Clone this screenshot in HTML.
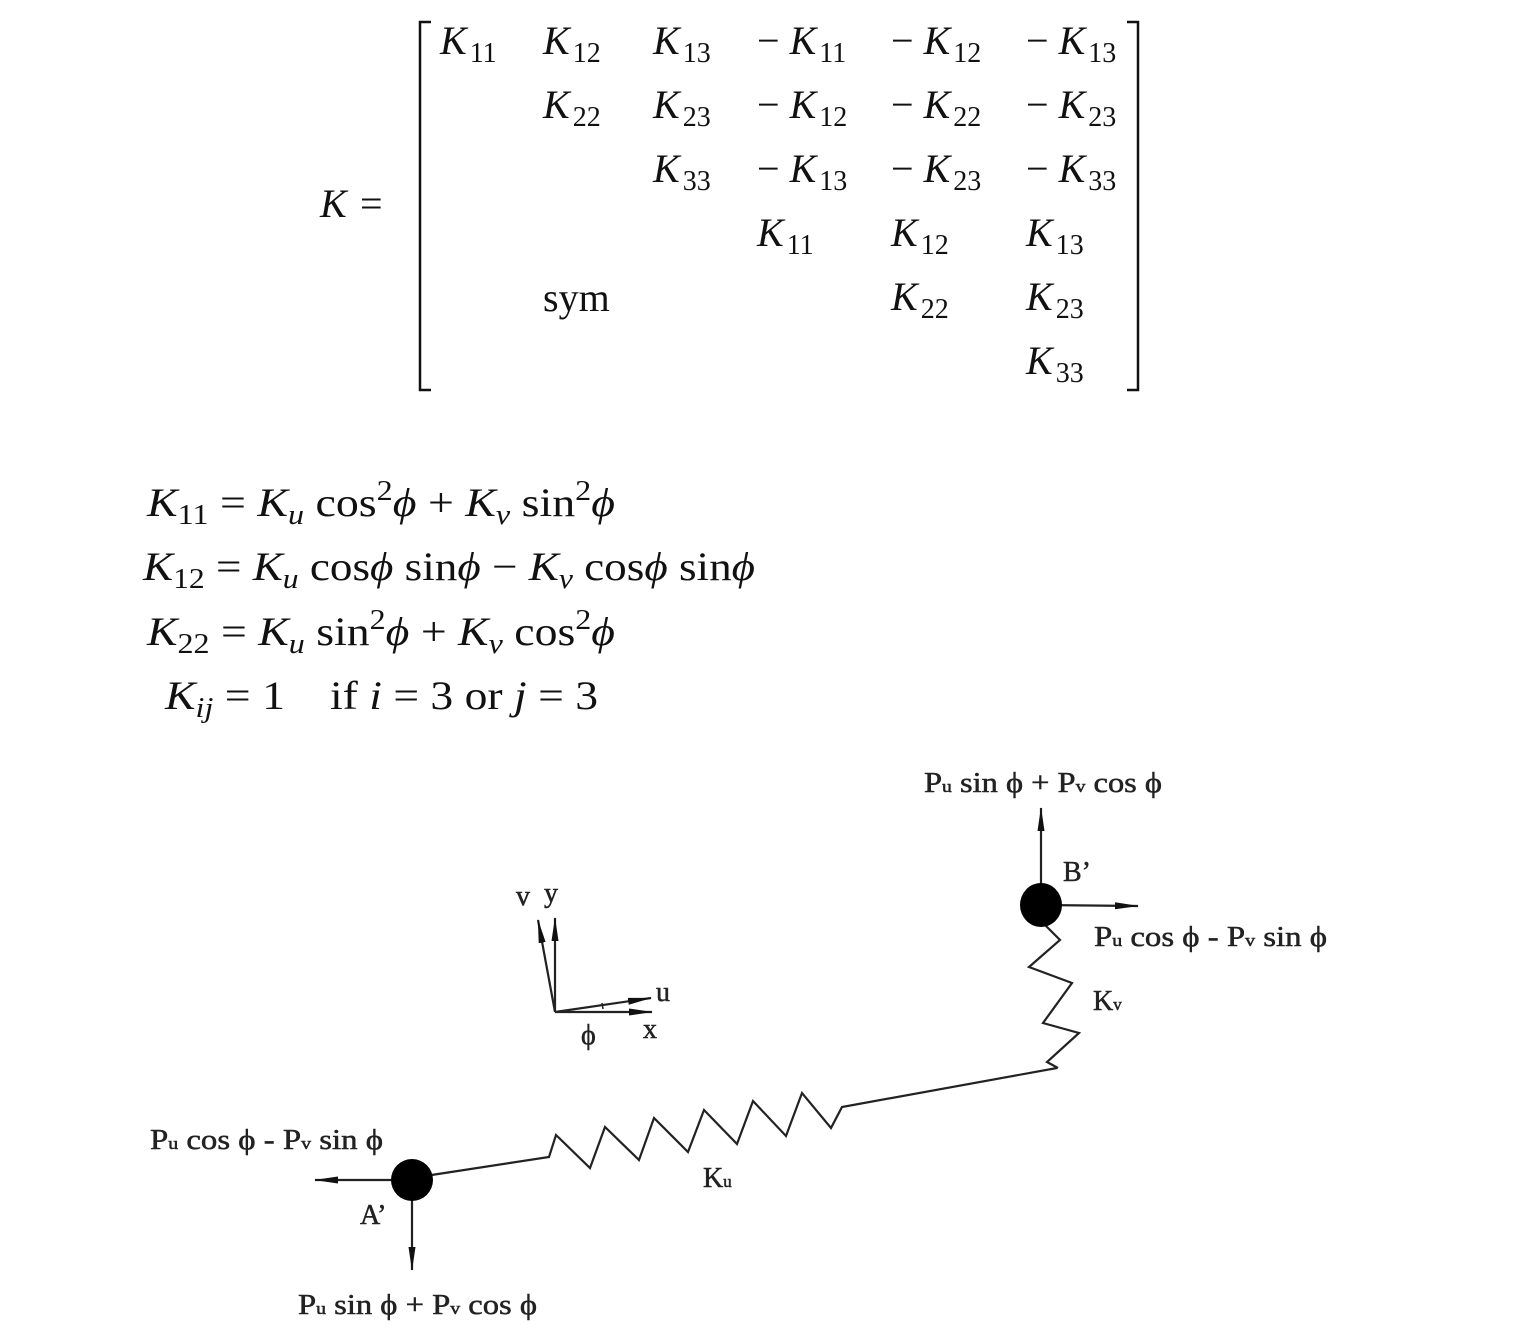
<!DOCTYPE html>
<html><head><meta charset="utf-8"><style>
html,body{margin:0;padding:0;background:#fff}
svg{display:block}
.m{font-family:"Liberation Serif",serif;font-size:40px;fill:#111}
.i{font-style:italic}
.s{font-size:28px;font-style:normal}
.d{font-family:"Liberation Serif",serif;font-size:28px;fill:#222;stroke:#222;stroke-width:0.5}
.ds{font-size:17px}
</style></head><body>
<svg width="1519" height="1335" viewBox="0 0 1519 1335" xmlns="http://www.w3.org/2000/svg">
<defs>
<marker id="ah2" markerWidth="24" markerHeight="10" refX="23" refY="5" orient="auto" markerUnits="userSpaceOnUse">
<path d="M0,1.5 L24,5 L0,8.5 Z" fill="#111"/></marker>
</defs>
<text class="m" x="320" y="217"><tspan class="i">K</tspan></text>
<text class="m" x="360" y="217">=</text>
<path d="M431,22 H420 V390 H431" fill="none" stroke="#111" stroke-width="2.5"/>
<path d="M1127,22 H1138 V390 H1127" fill="none" stroke="#111" stroke-width="2.5"/>
<text class="m" x="440" y="54"><tspan class="i">K</tspan><tspan class="s" dx="3" dy="8">11</tspan></text>
<text class="m" x="543" y="54"><tspan class="i">K</tspan><tspan class="s" dx="3" dy="8">12</tspan></text>
<text class="m" x="653" y="54"><tspan class="i">K</tspan><tspan class="s" dx="3" dy="8">13</tspan></text>
<text class="m" x="757" y="54">− <tspan class="i">K</tspan><tspan class="s" dx="3" dy="8">11</tspan></text>
<text class="m" x="891" y="54">− <tspan class="i">K</tspan><tspan class="s" dx="3" dy="8">12</tspan></text>
<text class="m" x="1026" y="54">− <tspan class="i">K</tspan><tspan class="s" dx="3" dy="8">13</tspan></text>
<text class="m" x="543" y="118"><tspan class="i">K</tspan><tspan class="s" dx="3" dy="8">22</tspan></text>
<text class="m" x="653" y="118"><tspan class="i">K</tspan><tspan class="s" dx="3" dy="8">23</tspan></text>
<text class="m" x="757" y="118">− <tspan class="i">K</tspan><tspan class="s" dx="3" dy="8">12</tspan></text>
<text class="m" x="891" y="118">− <tspan class="i">K</tspan><tspan class="s" dx="3" dy="8">22</tspan></text>
<text class="m" x="1026" y="118">− <tspan class="i">K</tspan><tspan class="s" dx="3" dy="8">23</tspan></text>
<text class="m" x="653" y="182"><tspan class="i">K</tspan><tspan class="s" dx="3" dy="8">33</tspan></text>
<text class="m" x="757" y="182">− <tspan class="i">K</tspan><tspan class="s" dx="3" dy="8">13</tspan></text>
<text class="m" x="891" y="182">− <tspan class="i">K</tspan><tspan class="s" dx="3" dy="8">23</tspan></text>
<text class="m" x="1026" y="182">− <tspan class="i">K</tspan><tspan class="s" dx="3" dy="8">33</tspan></text>
<text class="m" x="757" y="246"><tspan class="i">K</tspan><tspan class="s" dx="3" dy="8">11</tspan></text>
<text class="m" x="891" y="246"><tspan class="i">K</tspan><tspan class="s" dx="3" dy="8">12</tspan></text>
<text class="m" x="1026" y="246"><tspan class="i">K</tspan><tspan class="s" dx="3" dy="8">13</tspan></text>
<text class="m" x="543" y="311">sym</text>
<text class="m" x="891" y="310"><tspan class="i">K</tspan><tspan class="s" dx="3" dy="8">22</tspan></text>
<text class="m" x="1026" y="310"><tspan class="i">K</tspan><tspan class="s" dx="3" dy="8">23</tspan></text>
<text class="m" x="1026" y="374"><tspan class="i">K</tspan><tspan class="s" dx="3" dy="8">33</tspan></text>

<text class="m" x="147" y="516" textLength="468" lengthAdjust="spacingAndGlyphs"><tspan class="i">K</tspan><tspan class="s" dy="8">11</tspan><tspan dy="-8"> = </tspan><tspan class="i">K</tspan><tspan class="s" dy="8" style="font-style:italic">u</tspan><tspan dy="-8"> cos</tspan><tspan class="s" dy="-16">2</tspan><tspan class="i" dy="16">ϕ</tspan><tspan> + </tspan><tspan class="i">K</tspan><tspan class="s" dy="8" style="font-style:italic">v</tspan><tspan dy="-8"> sin</tspan><tspan class="s" dy="-16">2</tspan><tspan class="i" dy="16">ϕ</tspan></text>
<text class="m" x="143" y="580" textLength="612" lengthAdjust="spacingAndGlyphs"><tspan class="i">K</tspan><tspan class="s" dy="8">12</tspan><tspan dy="-8"> = </tspan><tspan class="i">K</tspan><tspan class="s" dy="8" style="font-style:italic">u</tspan><tspan dy="-8"> cos</tspan><tspan class="i">ϕ</tspan><tspan> sin</tspan><tspan class="i">ϕ</tspan><tspan> − </tspan><tspan class="i">K</tspan><tspan class="s" dy="8" style="font-style:italic">v</tspan><tspan dy="-8"> cos</tspan><tspan class="i">ϕ</tspan><tspan> sin</tspan><tspan class="i">ϕ</tspan></text>
<text class="m" x="147" y="645" textLength="468" lengthAdjust="spacingAndGlyphs"><tspan class="i">K</tspan><tspan class="s" dy="8">22</tspan><tspan dy="-8"> = </tspan><tspan class="i">K</tspan><tspan class="s" dy="8" style="font-style:italic">u</tspan><tspan dy="-8"> sin</tspan><tspan class="s" dy="-16">2</tspan><tspan class="i" dy="16">ϕ</tspan><tspan> + </tspan><tspan class="i">K</tspan><tspan class="s" dy="8" style="font-style:italic">v</tspan><tspan dy="-8"> cos</tspan><tspan class="s" dy="-16">2</tspan><tspan class="i" dy="16">ϕ</tspan></text>
<text class="m" x="165" y="709" textLength="120" lengthAdjust="spacingAndGlyphs"><tspan class="i">K</tspan><tspan class="s" dy="8" style="font-style:italic">ij</tspan><tspan dy="-8"> = 1</tspan></text>
<text class="m" x="330" y="709" textLength="268" lengthAdjust="spacingAndGlyphs">if <tspan class="i">i</tspan> = 3 or <tspan class="i">j</tspan> = 3</text>

<g stroke="#222" fill="none" stroke-width="2.2">
<line x1="555" y1="1012" x2="555" y2="918" marker-end="url(#ah2)"/>
<line x1="555" y1="1012" x2="538" y2="920" marker-end="url(#ah2)"/>
<line x1="555" y1="1012" x2="652" y2="1012" marker-end="url(#ah2)"/>
<line x1="555" y1="1012" x2="651" y2="998" marker-end="url(#ah2)"/>
<line x1="602" y1="1003" x2="603" y2="1009" stroke-width="1.5"/>
<polyline points="425,1176 549,1157 556,1135 590,1168 605,1127 639,1160 654,1118 688,1152 704,1110 737,1144 753,1101 786,1136 802,1093 831,1128 842,1107 1057,1068"/>
<polyline points="1045,925 1060,940 1029,967 1072,983 1043,1023 1079,1033 1047,1062 1058,1068"/>
<line x1="412" y1="1180" x2="315" y2="1180" marker-end="url(#ah2)"/>
<line x1="412" y1="1180" x2="412" y2="1270" marker-end="url(#ah2)"/>
<line x1="1041" y1="905" x2="1041" y2="808" marker-end="url(#ah2)"/>
<line x1="1041" y1="905" x2="1138" y2="906" marker-end="url(#ah2)"/>
</g>
<circle cx="412" cy="1180" r="21" fill="#000"/>
<ellipse cx="1041" cy="905" rx="21" ry="22" fill="#000"/>
<text class="d" x="516" y="905">v</text>
<text class="d" x="544" y="902">y</text>
<text class="d" x="656" y="1001">u</text>
<text class="d" x="643" y="1038">x</text>
<text class="d" x="581" y="1044">ϕ</text>
<text class="d" x="703" y="1187">K<tspan class="ds">u</tspan></text>
<text class="d" x="1093" y="1010">K<tspan class="ds">v</tspan></text>
<text class="d" x="1063" y="881">B’</text>
<text class="d" x="360" y="1224">A’</text>
<text class="d" x="924" y="792" textLength="238" lengthAdjust="spacingAndGlyphs">P<tspan class="ds">u</tspan> sin ϕ + P<tspan class="ds">v</tspan> cos ϕ</text>
<text class="d" x="1094" y="946" textLength="233" lengthAdjust="spacingAndGlyphs">P<tspan class="ds">u</tspan> cos ϕ - P<tspan class="ds">v</tspan> sin ϕ</text>
<text class="d" x="150" y="1149" textLength="233" lengthAdjust="spacingAndGlyphs">P<tspan class="ds">u</tspan> cos ϕ - P<tspan class="ds">v</tspan> sin ϕ</text>
<text class="d" x="298" y="1314" textLength="239" lengthAdjust="spacingAndGlyphs">P<tspan class="ds">u</tspan> sin ϕ + P<tspan class="ds">v</tspan> cos ϕ</text>
</svg>
</body></html>
